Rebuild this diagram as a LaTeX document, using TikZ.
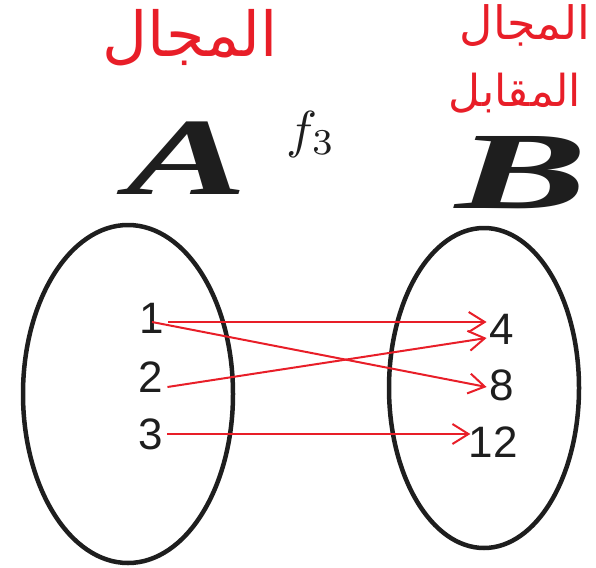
\documentclass[tikz,border=0pt]{standalone}
\usepackage{fontspec}
\setmainfont{Liberation Serif}
\newfontfamily\numfont{Liberation Sans}
\newfontfamily\arabicfont[Script=Arabic]{DejaVu Sans}
\TeXXeTstate=1
\usetikzlibrary{arrows.meta}
\definecolor{myred}{RGB}{232,30,40}
\definecolor{ink}{RGB}{30,30,30}
\begin{document}
\begin{tikzpicture}[x=1pt,y=-1pt,
  setel/.style={draw=ink,line width=4.5pt},
  num/.style={font=\numfont\fontsize{44}{44}\selectfont, inner sep=0pt, text=ink},
  maparrow/.style={draw=myred,line width=2pt,-{Straight Barb[length=16pt,width=20pt]}},
  setname/.style={font=\fontsize{110}{110}\selectfont\bfseries\itshape, inner sep=0pt, text=ink},
  note/.style={font=\arabicfont, text=myred, inner sep=0pt}]
\useasboundingbox (0,0) rectangle (596,567);
% set ellipses
\draw[setel] (128,394) ellipse [x radius=105pt, y radius=169pt];
\draw[setel] (484,388) ellipse [x radius=95pt, y radius=160pt];
% set names
\node[setname,xscale=1.65] (A) at (187,158) {A};
\node[setname,xscale=1.8] (B) at (522,173) {B};
\node[inner sep=0pt,scale=5.2,text=ink] (f) at (311,134) {$f_3$};
% Arabic notes
\node[note,font=\arabicfont\fontsize{62}{62}\selectfont] (dom) at (190,38) {\beginR المجال\endR};
\node[note,font=\arabicfont\fontsize{46}{46}\selectfont] (cod1) at (525,26) {\beginR المجال\endR};
\node[note,font=\arabicfont\fontsize{44}{44}\selectfont] (cod2) at (515,93) {\beginR المقابل\endR};
% elements
\node[num] (n1) at (152,318) {1};
\node[num] (n2) at (151,377) {2};
\node[num] (n3) at (151,434) {3};
\node[num] (n4) at (502,329) {4};
\node[num] (n8) at (502,385) {8};
\node[num] (n12) at (493,442) {12};
% mapping arrows
\draw[maparrow] ([xshift=4pt,yshift=-4pt]n1.east) -- ([xshift=-3pt,yshift=7pt]n4.west);
\draw[maparrow] ([yshift=-4pt]n1.center) -- ([xshift=-3pt,yshift=-2pt]n8.west);
\draw[maparrow] ([xshift=4pt,yshift=-10pt]n2.east) -- ([xshift=-3pt,yshift=-9pt]n4.west);
\draw[maparrow] ([xshift=4pt]n3.east) -- ([xshift=2pt,yshift=8pt]n12.west);
\end{tikzpicture}
\end{document}
